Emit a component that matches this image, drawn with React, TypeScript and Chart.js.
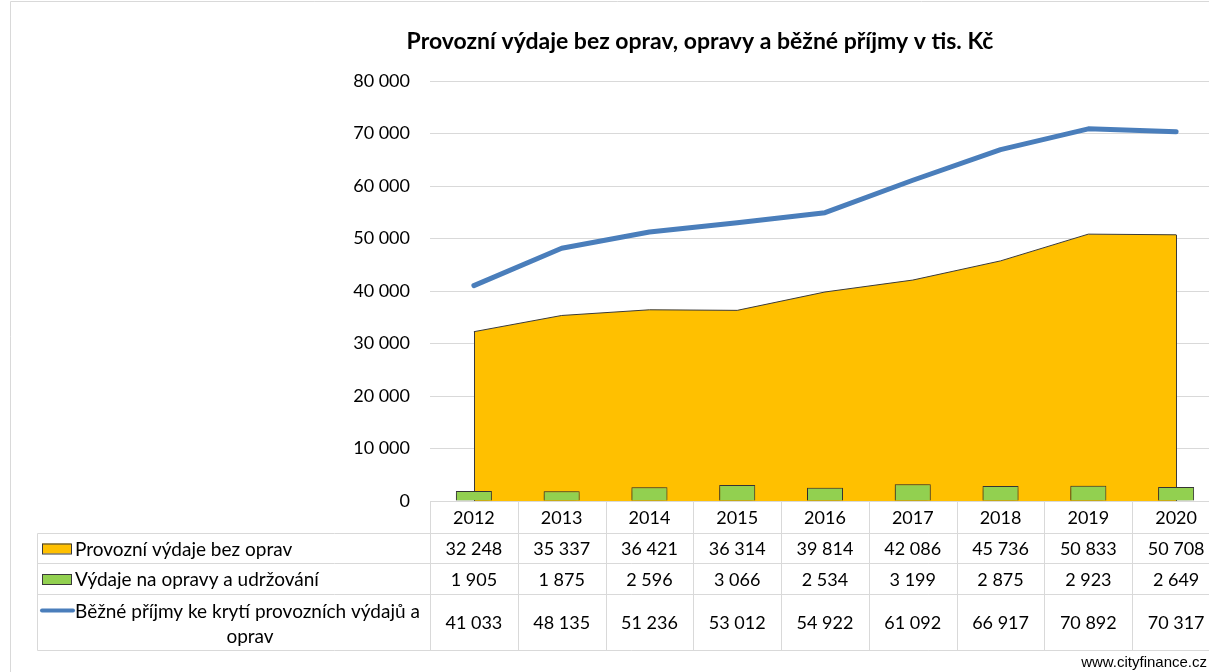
import React, { useEffect, useRef } from 'react';
import { Chart, registerables } from 'chart.js';

Chart.register(...registerables);

const title = 'Provozní výdaje bez oprav, opravy a běžné příjmy v tis. Kč';
const years = ['2012', '2013', '2014', '2015', '2016', '2017', '2018', '2019', '2020'];
const provozniVydaje = [32248, 35337, 36421, 36314, 39814, 42086, 45736, 50833, 50708];
const vydajeOpravy = [1905, 1875, 2596, 3066, 2534, 3199, 2875, 2923, 2649];
const bezneprijmy = [41033, 48135, 51236, 53012, 54922, 61092, 66917, 70892, 70317];
const seriesNames = [
  'Provozní výdaje bez oprav',
  'Výdaje na opravy a udržování',
  'Běžné příjmy ke krytí provozních výdajů a',
  'oprav',
];
const yMax = 80000;
const yStep = 10000;
const sourceText = 'www.cityfinance.cz';

const ORANGE = '#FFC000';
const GREEN = '#92D050';
const BLUE = '#4A7EBB';
const GRID = '#D9D9D9';
const OUTLINE = '#3A3A3A';
const FONT = 'Lato';

const fmt = (n: number) => String(n).replace(/\B(?=(\d{3})+(?!\d))/g, ' ');

const decorPlugin = {
  id: 'decor',
  beforeDatasetDraw(chart: any, args: any) {
    if (args.meta.type === 'bar') {
      const ctx = chart.ctx;
      ctx.save();
      ctx.shadowColor = 'rgba(0,0,0,0.45)';
      ctx.shadowBlur = 4;
      ctx.shadowOffsetX = -1;
      ctx.shadowOffsetY = 1;
    }
  },
  afterDatasetDraw(chart: any, args: any) {
    const ctx = chart.ctx;
    if (args.meta.type === 'bar') {
      ctx.restore();
    }
    if (args.index === 0) {
      const pts = args.meta.data;
      const y0 = chart.scales.y.getPixelForValue(0);
      ctx.save();
      ctx.strokeStyle = OUTLINE;
      ctx.lineWidth = 1;
      [pts[0], pts[pts.length - 1]].forEach((p: any) => {
        ctx.beginPath();
        ctx.moveTo(Math.round(p.x) + 0.5, p.y);
        ctx.lineTo(Math.round(p.x) + 0.5, y0);
        ctx.stroke();
      });
      ctx.restore();
    }
  },
  afterDraw(chart: any) {
    const ctx = chart.ctx;
    const xs = chart.scales.x;
    const area = chart.chartArea;
    const half = (xs.getPixelForValue(1) - xs.getPixelForValue(0)) / 2;
    const left = Math.round(area.left) + 0.5;
    const right = chart.width;
    const tableLeft = 37.5;
    const rowH = [32, 30, 31, 56];
    const tops: number[] = [Math.round(area.bottom) + 0.5];
    rowH.forEach((h) => tops.push(tops[tops.length - 1] + h));

    ctx.save();
    ctx.strokeStyle = GRID;
    ctx.lineWidth = 1;
    ctx.beginPath();
    ctx.moveTo(10.5, chart.height);
    ctx.lineTo(10.5, 1.5);
    ctx.lineTo(chart.width, 1.5);
    ctx.stroke();

    ctx.beginPath();
    ctx.moveTo(left, tops[0]);
    ctx.lineTo(right, tops[0]);
    for (let i = 1; i < tops.length; i++) {
      ctx.moveTo(tableLeft, tops[i]);
      ctx.lineTo(right, tops[i]);
    }
    ctx.moveTo(tableLeft, tops[1]);
    ctx.lineTo(tableLeft, tops[4]);
    for (let i = 0; i < years.length; i++) {
      const bx = Math.round(xs.getPixelForValue(i) - half) + 0.5;
      ctx.moveTo(bx, tops[0]);
      ctx.lineTo(bx, tops[4]);
    }
    const lastX = Math.round(xs.getPixelForValue(years.length - 1) + half) + 0.5;
    ctx.moveTo(lastX, tops[0]);
    ctx.lineTo(lastX, tops[4]);
    ctx.stroke();

    ctx.fillStyle = '#000';
    ctx.font = `18px ${FONT}`;
    ctx.textAlign = 'center';
    ctx.textBaseline = 'middle';
    const rows = [years, provozniVydaje.map(fmt), vydajeOpravy.map(fmt), bezneprijmy.map(fmt)];
    rows.forEach((vals, r) => {
      const cy = (tops[r] + tops[r + 1]) / 2 + 1;
      vals.forEach((v, i) => ctx.fillText(String(v), xs.getPixelForValue(i), cy));
    });

    const keyX = 42;
    const keyW = 29;
    const cy1 = (tops[1] + tops[2]) / 2;
    const cy2 = (tops[2] + tops[3]) / 2;
    ctx.lineWidth = 1;
    ctx.strokeStyle = OUTLINE;
    ctx.fillStyle = ORANGE;
    ctx.fillRect(keyX, cy1 - 5, keyW, 10);
    ctx.strokeRect(keyX + 0.5, cy1 - 4.5, keyW, 10);
    ctx.fillStyle = GREEN;
    ctx.fillRect(keyX, cy2 - 5, keyW, 10);
    ctx.strokeRect(keyX + 0.5, cy2 - 4.5, keyW, 10);
    const cy3 = tops[3] + 16;
    ctx.strokeStyle = BLUE;
    ctx.lineWidth = 4;
    ctx.lineCap = 'round';
    ctx.beginPath();
    ctx.moveTo(keyX, cy3);
    ctx.lineTo(keyX + keyW + 2, cy3);
    ctx.stroke();

    ctx.fillStyle = '#000';
    ctx.font = `19px ${FONT}`;
    ctx.textAlign = 'left';
    ctx.fillText(seriesNames[0], 75, cy1 + 1);
    ctx.fillText(seriesNames[1], 75, cy2 + 1);
    ctx.fillText(seriesNames[2], 75, cy3 + 1);
    ctx.textAlign = 'center';
    ctx.fillText(seriesNames[3], 250, cy3 + 26);

    ctx.font = `bold 23px ${FONT}`;
    ctx.fillText(title, 700, 42);

    ctx.font = '15px "Liberation Sans"';
    ctx.textAlign = 'right';
    ctx.fillText(sourceText, 1207, 663);
    ctx.restore();
  },
};

export default function App() {
  const ref = useRef<HTMLCanvasElement>(null);

  useEffect(() => {
    if (!ref.current) return;
    const chart = new Chart(ref.current, {
      type: 'bar',
      data: {
        labels: years,
        datasets: [
          {
            type: 'line',
            label: seriesNames[0],
            data: provozniVydaje,
            backgroundColor: ORANGE,
            borderColor: OUTLINE,
            borderWidth: 1,
            fill: 'origin',
            pointRadius: 0,
            tension: 0,
            order: 3,
          } as any,
          {
            type: 'bar',
            label: seriesNames[1],
            data: vydajeOpravy,
            backgroundColor: GREEN,
            borderColor: OUTLINE,
            borderWidth: 1,
            barPercentage: 0.41,
            categoryPercentage: 1,
            order: 2,
          },
          {
            type: 'line',
            label: seriesNames[2] + ' ' + seriesNames[3],
            data: bezneprijmy,
            borderColor: BLUE,
            borderWidth: 5,
            borderCapStyle: 'round',
            borderJoinStyle: 'round',
            pointRadius: 0,
            tension: 0,
            fill: false,
            order: 1,
          } as any,
        ],
      },
      options: {
        responsive: false,
        animation: false,
        devicePixelRatio: 1,
        layout: { padding: { top: 81, bottom: 171, left: 0, right: 5 } },
        plugins: {
          legend: { display: false },
          title: { display: false },
          tooltip: { enabled: false },
        },
        scales: {
          x: {
            display: false,
            offset: true,
          },
          y: {
            min: 0,
            max: yMax,
            afterFit: (scale: any) => {
              scale.width = 430;
            },
            ticks: {
              stepSize: yStep,
              padding: 20,
              color: '#000',
              font: { family: FONT, size: 18 },
              callback: (v: any) => fmt(Number(v)),
            },
            grid: { color: GRID, drawTicks: false, lineWidth: 1 },
            border: { display: false },
          },
        },
      },
      plugins: [decorPlugin],
    });
    return () => chart.destroy();
  }, []);

  return (
    <div
      style={{
        position: 'fixed',
        left: 0,
        top: 0,
        width: 1209,
        height: 672,
        overflow: 'hidden',
        background: '#fff',
      }}
    >
      <canvas ref={ref} width={1225} height={672} style={{ display: 'block', width: 1225, height: 672 }} />
    </div>
  );
}
